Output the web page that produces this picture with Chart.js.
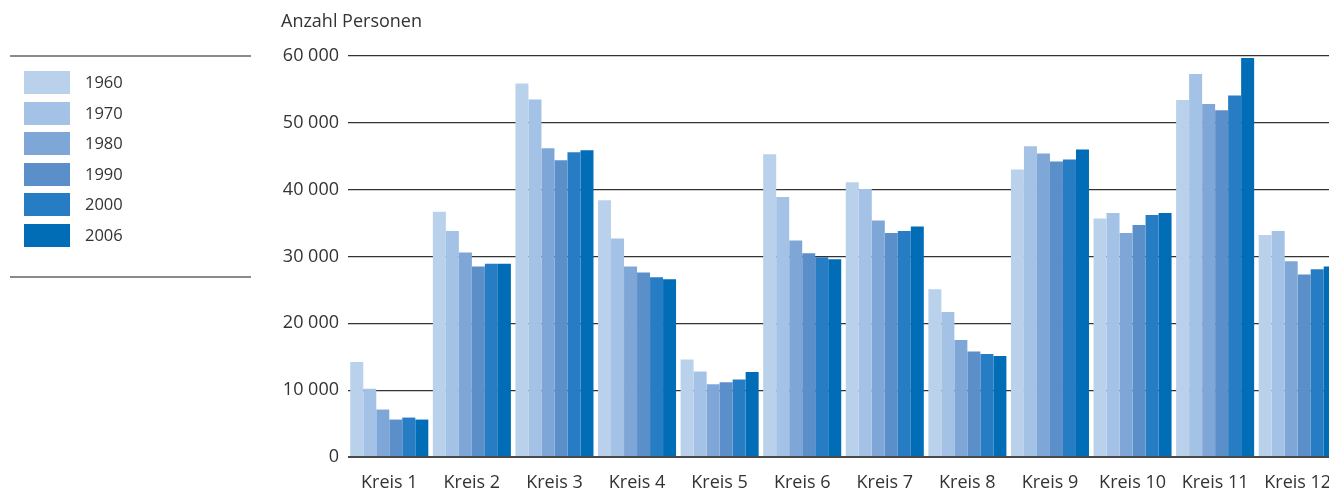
<!DOCTYPE html>
<html>
<head>
<meta charset="utf-8">
<script src="https://cdn.jsdelivr.net/npm/chart.js@4/dist/chart.umd.min.js"></script>
<style>
  html, body { margin: 0; padding: 0; overflow: hidden; background: #fff; }
  #wrap { width: 1329px; height: 492px; overflow: hidden; position: relative; }
  canvas { display: block; }
</style>
</head>
<body>
<div id="wrap"><canvas id="c" width="1339" height="492"></canvas></div>
<script>
// Wohnbevölkerung nach Stadtkreis
const categories = ['Kreis 1', 'Kreis 2', 'Kreis 3', 'Kreis 4', 'Kreis 5', 'Kreis 6',
                    'Kreis 7', 'Kreis 8', 'Kreis 9', 'Kreis 10', 'Kreis 11', 'Kreis 12'];
const years = ['1960', '1970', '1980', '1990', '2000', '2006'];

const values1960 = [14200, 36700, 55900, 38400, 14600, 45300, 41100, 25100, 43000, 35700, 53400, 33200];
const values1970 = [10200, 33800, 53500, 32700, 12800, 38900, 40100, 21700, 46500, 36500, 57300, 33800];
const values1980 = [7100, 30600, 46200, 28500, 10900, 32400, 35400, 17500, 45400, 33500, 52800, 29300];
const values1990 = [5600, 28500, 44400, 27600, 11200, 30500, 33500, 15800, 44200, 34700, 51900, 27300];
const values2000 = [5900, 28900, 45600, 26900, 11600, 29900, 33800, 15400, 44500, 36200, 54100, 28100];
const values2006 = [5600, 28900, 45900, 26600, 12700, 29600, 34500, 15100, 46000, 36500, 59700, 28500];

const yAxisTitle = 'Anzahl Personen';
const yMin = 0;
const yMax = 60000;
const yStep = 10000;

const colors = ['#bad1ec', '#a3c2e5', '#7ea7d8', '#5b8fca', '#277dc4', '#006db6'];
const seriesValues = [values1960, values1970, values1980, values1990, values2000, values2006];

const FONT = "'Open Sans', 'Noto Sans', sans-serif";
const TEXT = '#333333';

// Thousands separated by a space: 60 000
function formatNumber(v) {
  return String(v).replace(/\B(?=(\d{3})+(?!\d))/g, ' ');
}

// Legend block at the left with rules above and below, plus the axis caption
const sideLegend = {
  id: 'sideLegend',
  afterDraw(chart) {
    const ctx = chart.ctx;
    ctx.save();
    ctx.strokeStyle = '#8a8a8a';
    ctx.lineWidth = 2;
    ctx.beginPath();
    ctx.moveTo(10, 56); ctx.lineTo(251, 56);
    ctx.moveTo(10, 277); ctx.lineTo(251, 277);
    ctx.stroke();

    ctx.font = '16.5px ' + FONT;
    ctx.textBaseline = 'middle';
    ctx.textAlign = 'left';
    chart.data.datasets.forEach((ds, i) => {
      const top = Math.round(71 + i * 30.6);
      ctx.fillStyle = ds.backgroundColor;
      ctx.fillRect(24, top, 46, 23);
      ctx.fillStyle = TEXT;
      ctx.fillText(ds.label, 85, top + 12);
    });

    ctx.font = '18px ' + FONT;
    ctx.fillStyle = TEXT;
    ctx.textBaseline = 'middle';
    ctx.fillText(yAxisTitle, 281, 22);
    ctx.restore();
  }
};

new Chart(document.getElementById('c'), {
  type: 'bar',
  data: {
    labels: categories,
    datasets: years.map((y, i) => ({
      label: y,
      data: seriesValues[i],
      backgroundColor: colors[i],
      borderWidth: 0,
      categoryPercentage: 0.945,
      barPercentage: 1.0
    }))
  },
  options: {
    responsive: false,
    animation: false,
    devicePixelRatio: 1,
    layout: { padding: { left: 282, top: 56, right: 0, bottom: 0 } },
    plugins: {
      legend: { display: false },
      title: { display: false },
      tooltip: { enabled: false }
    },
    scales: {
      x: {
        grid: { display: false, drawTicks: false },
        border: { display: false },
        ticks: {
          color: TEXT,
          font: { family: FONT, size: 18 },
          padding: 15,
          maxRotation: 0,
          autoSkip: false
        },
        afterFit(scale) {
          scale.height = 35;
          scale.paddingLeft = 0;
          scale.paddingRight = 0;
        }
      },
      y: {
        min: yMin,
        max: yMax,
        grid: {
          drawTicks: false,
          color: ctx => ctx.tick && ctx.tick.value === 0 ? '#4a4a4a' : '#333333',
          lineWidth: ctx => ctx.tick && ctx.tick.value === 0 ? 2 : 1.2
        },
        border: { display: false },
        ticks: {
          stepSize: yStep,
          color: TEXT,
          font: { family: FONT, size: 18 },
          padding: 9,
          callback: v => formatNumber(v)
        },
        afterFit(scale) { scale.width = 66; }
      }
    }
  },
  plugins: [sideLegend]
});
</script>
</body>
</html>
